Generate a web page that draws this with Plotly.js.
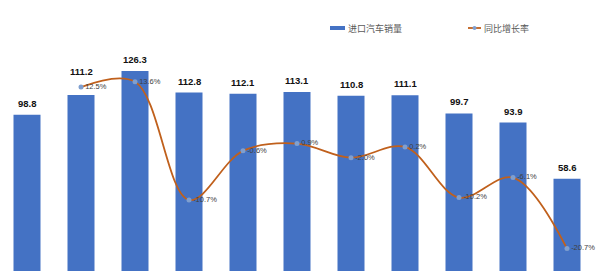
<!DOCTYPE html>
<html><head><meta charset="utf-8">
<script src="https://cdn.plot.ly/plotly-3.0.1.min.js"></script>
<style>html,body{margin:0;padding:0;background:#fff}#c{width:600px;height:271px}</style>
</head><body><div id="c"></div>
<script>
const categories = ['P1','P2','P3','P4','P5','P6','P7','P8','P9','P10','P11'];
const sales = [98.8, 111.2, 126.3, 112.8, 112.1, 113.1, 110.8, 111.1, 99.7, 93.9, 58.6];
const growth = [null, 12.5, 13.6, -10.7, -0.6, 0.9, -2.0, 0.2, -10.2, -6.1, -20.7];
const seriesNames = ['进口汽车销量', '同比增长率'];
const growthLabels = growth.map(v => v === null ? '' : v.toFixed(1) + '%');
const salesLabels = sales.map(v => v.toFixed(1));

const W = 600, H = 271, ML = 0, MR = 6;
const PW = W - ML - MR;
const px = v => (v - ML) / PW;
const py = v => 1 - v / H;

const cjk = '"Noto Sans CJK SC", "Liberation Sans", Arial, sans-serif';
const latin = '"Liberation Sans", Arial, sans-serif';
const barColor = '#4472c4', lineColor = '#c0601c', markerColor = '#7f9fcf';

const data = [
  {type:'bar', name:seriesNames[0], x:categories, y:sales, marker:{color:barColor}, showlegend:false, hoverinfo:'skip'},
  {type:'scatter', mode:'lines+markers+text', name:seriesNames[1], x:categories, y:growth, yaxis:'y2',
   line:{color:lineColor, width:1.8, shape:'spline', smoothing:1}, connectgaps:false,
   marker:{color:markerColor, size:5}, cliponaxis:false, showlegend:false,
   text:growthLabels, textposition:'middle right',
   textfont:{size:7.5, color:'#404040', family:latin}}
];

// bar value labels (positioned from data through the axes)
const annotations = sales.map((v, i) => ({
  x: categories[i], y: v, xref:'x', yref:'y', text: salesLabels[i],
  showarrow:false, yanchor:'bottom', yshift: i === 1 ? 16 : 4,
  font:{size:9.5, color:'#111', family:latin, weight:700}
}));
// custom legend
annotations.push(
  {xref:'paper', yref:'paper', x:px(346), y:py(28), xanchor:'left', yanchor:'middle', text:seriesNames[0],
   showarrow:false, font:{size:9, color:'#595959', family:cjk}},
  {xref:'paper', yref:'paper', x:px(482), y:py(28), xanchor:'left', yanchor:'middle', text:seriesNames[1],
   showarrow:false, font:{size:9, color:'#595959', family:cjk}}
);
const shapes = [
  {type:'rect', xref:'paper', yref:'paper', x0:px(330), x1:px(345), y0:py(30), y1:py(26), fillcolor:barColor, line:{width:0}},
  {type:'line', xref:'paper', yref:'paper', x0:px(468), x1:px(481), y0:py(28), y1:py(28), line:{color:lineColor, width:1.8}},
  {type:'circle', xref:'paper', yref:'paper', x0:px(472.5), x1:px(476.5), y0:py(30), y1:py(26), fillcolor:markerColor, line:{width:0}}
];

const layout = {
  width:W, height:H, margin:{l:ML, r:MR, t:0, b:0, autoexpand:false},
  paper_bgcolor:'#fff', plot_bgcolor:'#fff',
  bargap:0.5, showlegend:false,
  font:{family:cjk},
  xaxis:{type:'category', range:[-0.5,10.5], showticklabels:false, showgrid:false, zeroline:false, showline:false, ticks:''},
  yaxis:{range:[0.6,171], showticklabels:false, showgrid:false, zeroline:false, showline:false},
  yaxis2:{range:[-25.3,30.4], overlaying:'y', side:'right', showticklabels:false, showgrid:false, zeroline:false, showline:false},
  annotations, shapes
};
Plotly.newPlot('c', data, layout, {displayModeBar:false, staticPlot:true});
</script></body></html>
